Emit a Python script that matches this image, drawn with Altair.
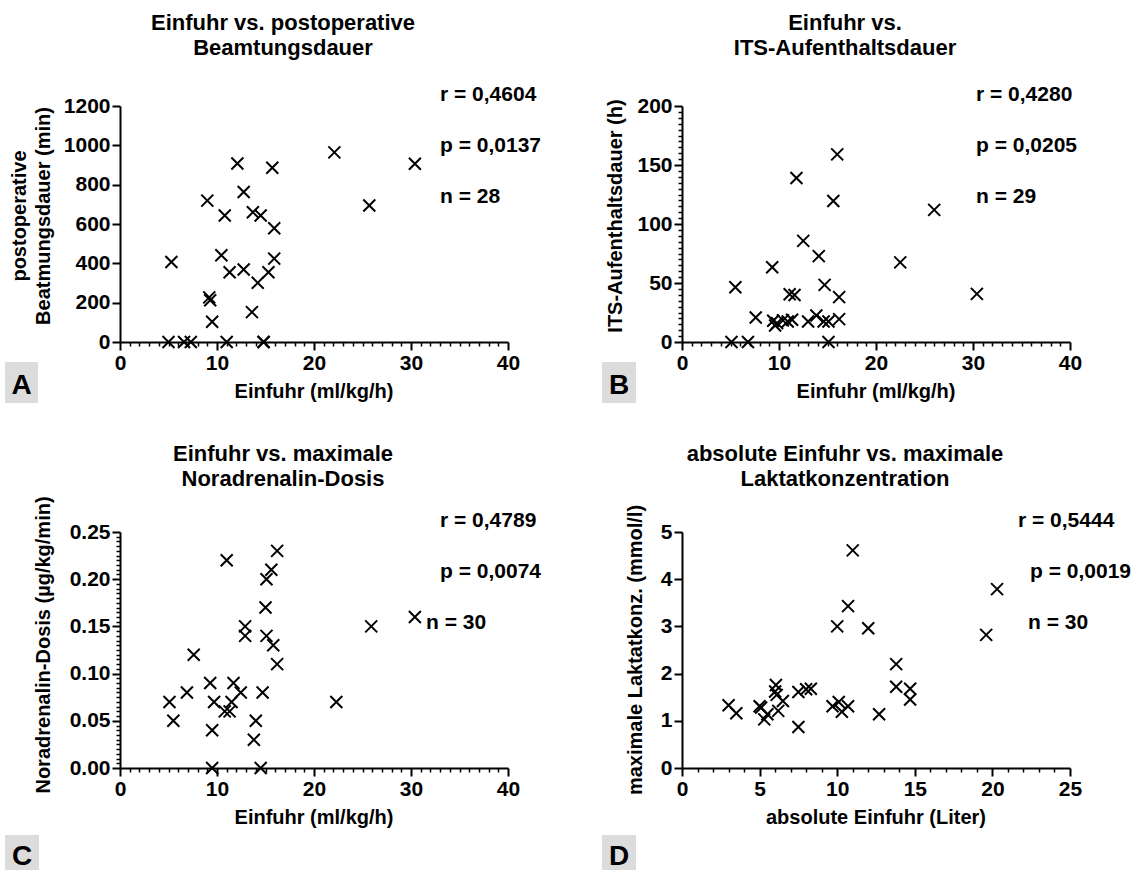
import altair as alt
import pandas as pd

# ---------------- data ----------------
a_x = [5.0, 6.6, 7.3, 11.0, 14.8, 14.8, 5.3, 9.0, 9.2, 9.3, 9.5, 10.45, 10.8, 11.3, 12.1, 12.75,
       12.75, 13.6, 13.7, 14.5, 14.2, 15.3, 15.7, 15.9, 15.9, 22.1, 25.7, 30.4]
a_y = [0, 0, 0, 0, 0, 0, 407, 719, 227, 212, 103, 441, 643, 355, 908, 763,
       369, 152, 660, 643, 301, 355, 886, 578, 424, 964, 694, 906]

b_x = [16.0, 11.8, 15.6, 12.5, 14.1, 9.3, 5.5, 14.7, 11.1, 11.6, 16.2, 7.6, 9.4, 9.6, 9.8,
       10.4, 10.9, 11.35, 13.0, 13.85, 14.6, 15.1, 16.2, 5.1, 6.8, 15.1, 22.5, 26.0, 30.4]
b_y = [159, 139, 119.5, 85.7, 72.8, 63.3, 46.4, 48.4, 40.5, 39.9, 38, 20.8, 18, 14, 16,
       18.3, 17.4, 18.8, 17.4, 22.5, 17.4, 17.4, 19.4, 0, 0, 0, 67.5, 112, 40.8]

c_x = [16.2, 11.0, 15.6, 15.1, 15.0, 12.9, 12.9, 15.1, 15.8, 16.2, 7.6, 9.3, 11.7, 6.9, 12.45,
       14.7, 5.1, 9.7, 11.5, 10.8, 11.3, 5.5, 14.0, 9.5, 13.8, 9.5, 14.5, 22.3, 25.9, 30.4]
c_y = [0.23, 0.22, 0.21, 0.20, 0.17, 0.15, 0.14, 0.14, 0.13, 0.11, 0.12, 0.09, 0.09, 0.08, 0.08,
       0.08, 0.07, 0.07, 0.07, 0.06, 0.06, 0.05, 0.05, 0.04, 0.03, 0.00, 0.00, 0.07, 0.15, 0.16]

d_x = [3.0, 3.5, 5.0, 5.1, 5.3, 5.5, 6.05, 6.0, 6.1, 6.2, 6.5, 7.5, 7.5, 8.0, 8.3,
       9.7, 10.1, 10.3, 10.7, 10.0, 10.7, 11.0, 12.0, 12.7, 13.8, 13.8, 14.7, 14.7, 19.6, 20.3]
d_y = [1.33, 1.16, 1.31, 1.28, 1.03, 1.14, 1.76, 1.62, 1.55, 1.21, 1.42, 1.61, 0.87, 1.67, 1.68,
       1.31, 1.40, 1.19, 1.31, 3.00, 3.43, 4.61, 2.96, 1.14, 2.20, 1.72, 1.68, 1.45, 2.82, 3.79]

titles = {
    "A": ["Einfuhr vs. postoperative", "Beamtungsdauer"],
    "B": ["Einfuhr vs.", "ITS-Aufenthaltsdauer"],
    "C": ["Einfuhr vs. maximale", "Noradrenalin-Dosis"],
    "D": ["absolute Einfuhr vs. maximale", "Laktatkonzentration"],
}
stats = {
    "A": ["r = 0,4604", "p = 0,0137", "n = 28"],
    "B": ["r = 0,4280", "p = 0,0205", "n = 29"],
    "C": ["r = 0,4789", "p = 0,0074", "n = 30"],
    "D": ["r = 0,5444", "p = 0,0019", "n = 30"],
}
x_titles = {"A": "Einfuhr (ml/kg/h)", "B": "Einfuhr (ml/kg/h)",
            "C": "Einfuhr (ml/kg/h)", "D": "absolute Einfuhr (Liter)"}
y_titles = {"A": ["postoperative", "Beatmungsdauer (min)"], "B": ["ITS-Aufenthaltsdauer (h)"],
            "C": ["Noradrenalin-Dosis (µg/kg/min)"], "D": ["maximale Laktatkonz. (mmol/l)"]}

# ---------------- styling ----------------
FONT = "Liberation Sans"
W, H = 388, 236
XSHAPE = "M-1,-1L1,1M-1,1L1,-1"
BOXGRAY = "#dcdcdc"


def txt(s, x, y, size=20, align="left", angle=0, baseline="alphabetic"):
    kw = dict(align=align, baseline=baseline, font=FONT, fontWeight="bold",
              fontSize=size, color="black")
    if angle:
        kw["angle"] = angle
    return alt.Chart(pd.DataFrame({"t": [s]})).mark_text(**kw).encode(
        text="t:N", x=alt.value(x), y=alt.value(y))


def box(x1, x2, y1, y2, color):
    return alt.Chart(pd.DataFrame({"k": [0]})).mark_rect(color=color).encode(
        x=alt.value(x1), x2=alt.value(x2), y=alt.value(y1), y2=alt.value(y2))


def make_axis(values, fmt, major_test=None):
    kw = dict(values=values, format=fmt, title=None, grid=False,
              domainColor="black", domainWidth=2, tickColor="black",
              labelFont=FONT, labelFontWeight="bold", labelFontSize=21, labelColor="black",
              labelPadding=2, labelFlush=False, labelOverlap=False, labelBound=False)
    if major_test:
        kw["labelExpr"] = f"({major_test}) ? datum.label : ''"
        kw["tickSize"] = {"condition": {"test": major_test, "value": 8}, "value": 4}
        kw["tickWidth"] = {"condition": {"test": major_test, "value": 2}, "value": 1.5}
    else:
        kw["tickSize"] = 8
        kw["tickWidth"] = 2
    return alt.Axis(**kw)


def panel(key, xs, ys, xdom, ydom, xaxis, yaxis, stat_x, ytitle_x, ytitle_y,
          letter_box, letter_base, title_y, extra=None):
    df = pd.DataFrame({"x": xs, "y": ys})
    pts = alt.Chart(df).mark_point(shape=XSHAPE, size=144, filled=False, strokeWidth=2,
                                   color="black", opacity=1).encode(
        x=alt.X("x:Q", scale=alt.Scale(domain=xdom, nice=False, zero=True), axis=xaxis),
        y=alt.Y("y:Q", scale=alt.Scale(domain=ydom, nice=False, zero=True), axis=yaxis),
    )
    layers = [pts]
    # title
    layers.append(txt(titles[key][0], 163, title_y, size=22, align="center"))
    layers.append(txt(titles[key][1], 163, title_y + 25, size=22, align="center"))
    # stats
    for s, sx, sy in zip(stats[key], stat_x, [-5, 46, 97]):
        layers.append(txt(s, sx, sy, size=21))
    # axis titles
    layers.append(txt(x_titles[key], W / 2, 292, size=20, align="center"))
    for t, tx in zip(y_titles[key], ytitle_x):
        layers.append(txt(t, tx, ytitle_y, size=20, align="center", angle=270, baseline="middle"))
    # letter
    x1, x2, y1, y2 = letter_box
    layers.append(box(x1, x2, y1, y2, BOXGRAY))
    layers.append(txt(key, (x1 + x2) / 2, letter_base, size=28, align="center"))
    if extra is not None:
        layers.append(extra)
    return alt.layer(*layers).properties(width=W, height=H)


ax_x40 = make_axis(list(range(0, 41)), "d", "datum.value % 10 === 0")
pa = panel("A", a_x, a_y, [0, 40], [0, 1200], ax_x40,
           make_axis(list(range(0, 1201, 200)), "d"),
           [320, 320, 320], [-100, -76], 110, (-115, -82, 256, 297), 288, -76,
           extra=box(-120, -119, -106, -105, "white"))
pb = panel("B", b_x, b_y, [0, 40], [0, 200], ax_x40,
           make_axis(list(range(0, 201, 5)), "d", "datum.value % 50 === 0"),
           [294, 294, 294], [-66], 110, (-80, -46, 256, 297), 288, -76)
pc = panel("C", c_x, c_y, [0, 40], [0, 0.25], ax_x40,
           make_axis([round(i * 0.005, 3) for i in range(0, 51)], ".2f",
                     "abs(round(datum.value * 1000)) % 50 === 0"),
           [320, 320, 306], [-76], 113, (-115, -81, 303, 338), 333, -71)
pd_ = panel("D", d_x, d_y, [0, 25], [0, 5],
            make_axis(list(range(0, 26)), "d", "datum.value % 5 === 0"),
            make_axis(list(range(0, 6)), "d"),
            [336, 348, 346], [-46], 118, (-80, -46, 303, 338), 333, -71)

chart = alt.concat(pa, pb, pc, pd_, columns=2, spacing={"row": 190, "column": 174},
                   bounds="flush").configure_view(strokeWidth=0).properties(padding=0)

chart.save("out.html", embed_options={"renderer": "svg", "actions": False})
